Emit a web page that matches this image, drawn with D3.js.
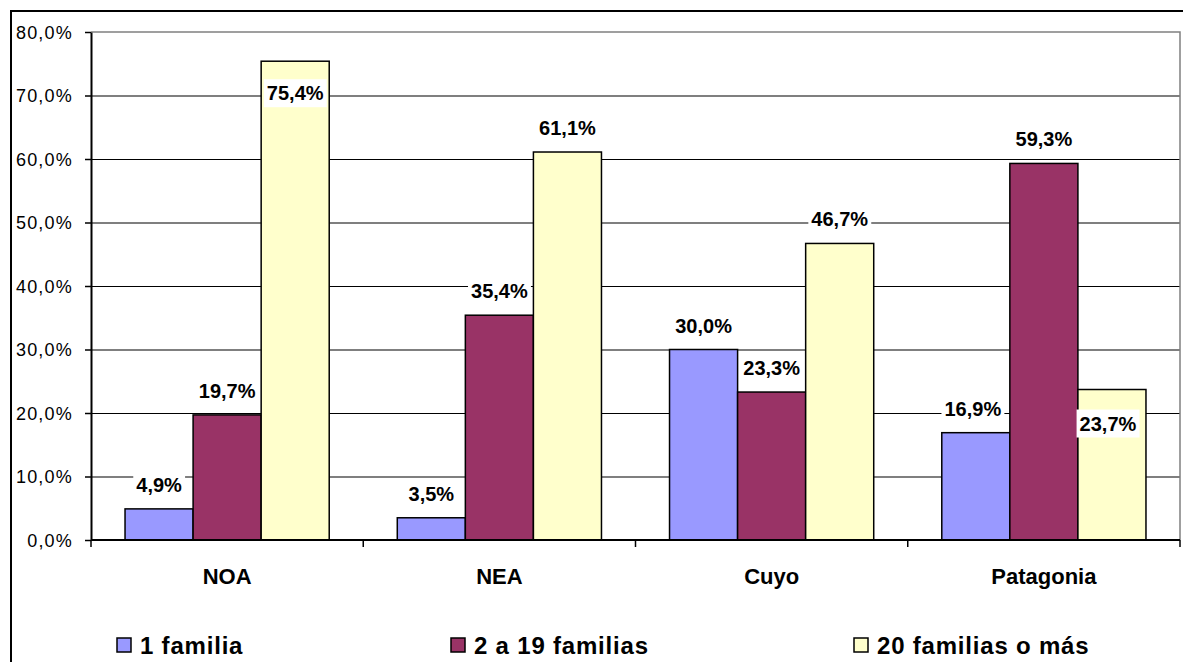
<!DOCTYPE html>
<html>
<head>
<meta charset="utf-8">
<script src="https://cdn.jsdelivr.net/npm/d3@7"></script>
<style>
  html, body { margin: 0; padding: 0; background: #fff; }
  svg { display: block; font-family: "Liberation Sans", Arial, sans-serif; }
</style>
</head>
<body>
<svg id="chart" width="1183" height="662"></svg>
<script>
// ---- data ----
const categories = ["NOA", "NEA", "Cuyo", "Patagonia"];
const seriesNames = ["1 familia", "2 a 19 familias", "20 familias o más"];
const serie1Familia = [4.9, 3.5, 30.0, 16.9];
const serie2a19 = [19.7, 35.4, 23.3, 59.3];
const serie20omas = [75.4, 61.1, 46.7, 23.7];
const yTicks = [0, 10, 20, 30, 40, 50, 60, 70, 80];

const seriesValues = [serie1Familia, serie2a19, serie20omas];
const colors = ["#9999FF", "#993366", "#FFFFCC"];

const svg = d3.select("#chart");
const W = 1183, H = 662;
const plot = { left: 91, top: 32, right: 1180, bottom: 540 };

// outer border (cropped at right/bottom)
svg.append("rect").attr("x", 11).attr("y", 11).attr("width", W + 10).attr("height", H + 10)
  .attr("fill", "#fff").attr("stroke", "#000").attr("stroke-width", 2)
  .attr("shape-rendering", "crispEdges");

const fmt = d => d.toFixed(1).replace(".", ",") + "%";

const x0 = d3.scaleBand().domain(categories).range([plot.left, plot.right]).padding(0);
const x1 = d3.scaleBand().domain(d3.range(seriesNames.length)).range([0, x0.bandwidth()])
  .paddingInner(0).paddingOuter(0.5);
const y = d3.scaleLinear().domain([0, 80]).range([plot.bottom, plot.top]);

// gridlines
svg.append("g").selectAll("line").data(yTicks.filter(t => t > 0 && t < 80)).join("line")
  .attr("x1", plot.left).attr("x2", plot.right)
  .attr("y1", d => y(d) + 0.5).attr("y2", d => y(d) + 0.5)
  .attr("stroke", "#000").attr("stroke-width", 1.2);

// plot border top/right gray
svg.append("path")
  .attr("d", `M${plot.left},${plot.top}H${plot.right}V${plot.bottom}`)
  .attr("fill", "none").attr("stroke", "#808080").attr("stroke-width", 1.5);

// bars
const rows = [];
categories.forEach((c, ci) => {
  seriesValues.forEach((vals, si) => {
    rows.push({ cat: c, ci, si, v: vals[ci] });
  });
});

svg.append("g").selectAll("rect").data(rows).join("rect")
  .attr("x", d => x0(d.cat) + x1(d.si))
  .attr("y", d => y(d.v))
  .attr("width", x1.bandwidth())
  .attr("height", d => y(0) - y(d.v))
  .attr("fill", d => colors[d.si])
  .attr("stroke", "#000").attr("stroke-width", 1.5);

// y axis
const yAxis = svg.append("g").attr("transform", `translate(${plot.left},0)`)
  .call(d3.axisLeft(y).tickValues(yTicks).tickSize(6).tickSizeOuter(0).tickFormat(fmt));
yAxis.select(".domain").attr("stroke", "#000").attr("stroke-width", 2);
yAxis.selectAll(".tick line").attr("stroke", "#000").attr("stroke-width", 1.5);
yAxis.selectAll(".tick text")
  .attr("x", -18).attr("dy", "0.36em")
  .attr("font-size", 18).attr("letter-spacing", 1.2)
  .attr("font-family", "Liberation Sans, Arial, sans-serif")
  .attr("fill", "#000");

// x axis
const xAxisG = svg.append("g");
xAxisG.append("line").attr("x1", plot.left).attr("x2", plot.right)
  .attr("y1", y(0)).attr("y2", y(0)).attr("stroke", "#000").attr("stroke-width", 2);
const bounds = categories.map(c => x0(c)).concat([x0(categories[categories.length - 1]) + x0.bandwidth()]);
xAxisG.selectAll("line.tk").data(bounds).join("line").attr("class", "tk")
  .attr("x1", d => d).attr("x2", d => d)
  .attr("y1", y(0)).attr("y2", y(0) + 7)
  .attr("stroke", "#000").attr("stroke-width", 1.5);
xAxisG.selectAll("text").data(categories).join("text")
  .attr("x", d => x0(d) + x0.bandwidth() / 2)
  .attr("y", 584)
  .attr("text-anchor", "middle")
  .attr("font-size", 22).attr("font-weight", "bold")
  .text(d => d);

// data labels
const insideLabels = { "NOA-2": { dy: 32, dx: 0 }, "Patagonia-2": { dy: 34, dx: -4 }, "Patagonia-0": { dy: -24, dx: -3 } };
const lblG = svg.append("g");
rows.forEach(d => {
  const key = d.cat + "-" + d.si;
  const off = insideLabels[key] || { dy: -24, dx: 0 };
  const cx = x0(d.cat) + x1(d.si) + x1.bandwidth() / 2 + off.dx;
  const cy = y(d.v) + off.dy;
  const g = lblG.append("g");
  const t = g.append("text")
    .attr("x", cx).attr("y", cy + 7)
    .attr("text-anchor", "middle")
    .attr("font-size", 20).attr("font-weight", "bold")
    .text(fmt(d.v));
  const bb = t.node().getBBox();
  g.insert("rect", "text")
    .attr("x", bb.x - 3).attr("y", bb.y - 3)
    .attr("width", bb.width + 6).attr("height", bb.height + 6)
    .attr("fill", "#fff");
});

// legend
const legendX = [117, 451, 854];
const lg = svg.append("g");
seriesNames.forEach((name, i) => {
  lg.append("rect").attr("x", legendX[i]).attr("y", 638).attr("width", 14).attr("height", 14)
    .attr("fill", colors[i]).attr("stroke", "#000").attr("stroke-width", 1.5);
  lg.append("text").attr("x", legendX[i] + 23).attr("y", 654)
    .attr("font-size", 24).attr("font-weight", "bold").attr("letter-spacing", 0.8)
    .text(name);
});
</script>
</body>
</html>
